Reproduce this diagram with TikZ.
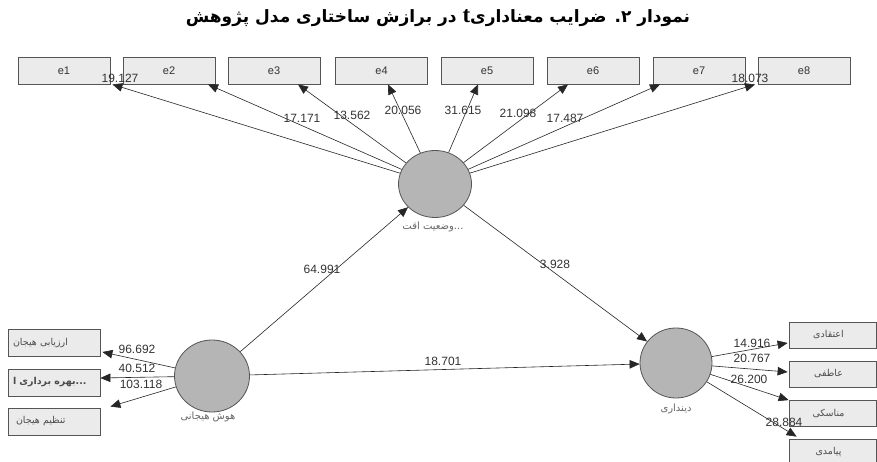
\documentclass[tikz,border=0pt]{standalone}
\usepackage{fontspec}
\setmainfont{Liberation Sans}
\newfontfamily\arabicfont[Script=Arabic]{DejaVu Sans}
\newfontfamily\serift{Liberation Serif}
\TeXXeTstate=1
\usetikzlibrary{arrows.meta,shapes.geometric}
\definecolor{boxfill}{HTML}{EBEBEB}
\definecolor{boxline}{HTML}{555555}
\definecolor{circfill}{HTML}{B5B5B5}
\definecolor{txt}{HTML}{333333}
\tikzset{
  ind/.style={draw=boxline, fill=boxfill, line width=0.8pt, minimum width=92pt, minimum height=27pt, inner sep=0pt, font=\fontsize{11}{12}\selectfont, text=txt},
  indl/.style={ind, text width=82pt, align=left, font=\arabicfont\fontsize{9.5}{10}\selectfont, text=black!70},
  indr/.style={ind, minimum width=87pt, minimum height=26pt, font=\arabicfont\fontsize{9.5}{10}\selectfont, text=black!70},
  lat/.style={ellipse, draw=boxline, fill=circfill, line width=0.8pt, inner sep=0pt},
  arr/.style={-{Triangle[length=10pt,width=8.5pt]}, draw=black!85, line width=0.6pt},
  num/.style={font=\fontsize{12}{13}\selectfont, text=txt, inner sep=0pt},
  lbl/.style={font=\arabicfont\fontsize{10}{11}\selectfont, text=black!60, inner sep=0pt}
}
\begin{document}
\begin{tikzpicture}[x=1pt,y=-1pt]
\clip (0,0) rectangle (877,462);
\fill[white] (0,0) rectangle (877,462);
% title
\node (title) at (438,18) {\arabicfont\bfseries\fontsize{17}{20}\selectfont\beginR نمودار ۲. ضرایب معناداری\beginL{\serift\fontsize{23}{23}\selectfont t}\endL{} در برازش ساختاری مدل پژوهش\endR};
% top indicator boxes
\node[ind] (e1) at (64,70.5) {e1};
\node[ind] (e2) at (169,70.5) {e2};
\node[ind] (e3) at (274,70.5) {e3};
\node[ind] (e4) at (381.5,70.5) {e4};
\node[ind] (e5) at (487,70.5) {e5};
\node[ind] (e6) at (593,70.5) {e6};
\node[ind] (e7) at (699,70.5) {e7};
\node[ind] (e8) at (804,70.5) {e8};
% left boxes
\node[indl] (lb1) at (54,343) {\beginR ارزیابی هیجان\endR};
\node[indl] (lb2) at (54,382.5) {\bfseries\beginR بهره برداری ا\endR...};
\node[indl] (lb3) at (54,421.5) {\hspace*{3pt}\beginR تنظیم هیجان\endR};
% right boxes
\node[indr] (rb1) at (832.5,335) {\beginR اعتقادی\endR\hspace*{8pt}};
\node[indr] (rb2) at (832.5,374) {\beginR عاطفی\endR\hspace*{8pt}};
\node[indr] (rb3) at (832.5,413.5) {\beginR مناسکی\endR\hspace*{8pt}};
\node[indr] (rb4) at (832.5,452) {\beginR پیامدی\endR\hspace*{8pt}};
% latent variables
\node[lat, minimum width=73pt, minimum height=67pt] (t) at (435,184) {};
\node[lat, minimum width=75pt, minimum height=72pt] (l) at (212,376) {};
\node[lat, minimum width=72pt, minimum height=70pt] (r) at (676,363) {};
\node[lbl] (tl) at (433,227) {\beginR وضعیت اقت\endR...};
\node[lbl] (ll) at (208,417) {\beginR هوش هیجانی\endR};
\node[lbl] (rl) at (676,409) {\beginR دینداری\endR};
% arrows top
\draw[arr] (t) -- ([xshift=2pt]e1.south east);
\draw[arr] (t) -- ([xshift=39pt]e2.south);
\draw[arr] (t) -- ([xshift=24pt]e3.south);
\draw[arr] (t) -- ([xshift=6.5pt]e4.south);
\draw[arr] (t) -- ([xshift=-9pt]e5.south);
\draw[arr] (t) -- ([xshift=-25pt]e6.south);
\draw[arr] (t) -- ([xshift=-39pt]e7.south);
\draw[arr] (t) -- ([xshift=-49pt]e8.south);
% structural arrows
\draw[arr] (l) -- (t);
\draw[arr] (t) -- (r);
\draw[arr] (l) -- (r);
% left arrows
\draw[arr] (l) -- ([shift={(2,9)}]lb1.east);
\draw[arr] (l) -- ([shift={(0,-4.5)}]lb2.east);
\draw[arr] (l) -- ([shift={(10,-1)}]lb3.north east);
% right arrows
\draw[arr] (r) -- ([shift={(-1,8)}]rb1.west);
\draw[arr] (r) -- ([shift={(-1,-2)}]rb2.west);
\draw[arr] (r) -- (rb3.north west);
\draw[arr] (r) -- ([shift={(8,-2)}]rb4.north west);
% numbers
\node[num] (n1) at (120,78) {19.127};
\node[num] (n2) at (302,118) {17.171};
\node[num] (n3) at (352,115) {13.562};
\node[num] (n4) at (403,110) {20.056};
\node[num] (n5) at (463,110) {31.615};
\node[num] (n6) at (518,113) {21.098};
\node[num] (n7) at (565,118) {17.487};
\node[num] (n8) at (750,78) {18.073};
\node[num] (n9) at (322,269) {64.991};
\node[num] (n10) at (555,264) {3.928};
\node[num] (n11) at (443,361) {18.701};
\node[num] (n12) at (137,349) {96.692};
\node[num] (n13) at (137,368) {40.512};
\node[num] (n14) at (141,384) {103.118};
\node[num] (n15) at (752,343) {14.916};
\node[num] (n16) at (752,358) {20.767};
\node[num] (n17) at (749,379) {26.200};
\node[num] (n18) at (784,422) {28.884};
\end{tikzpicture}
\end{document}
